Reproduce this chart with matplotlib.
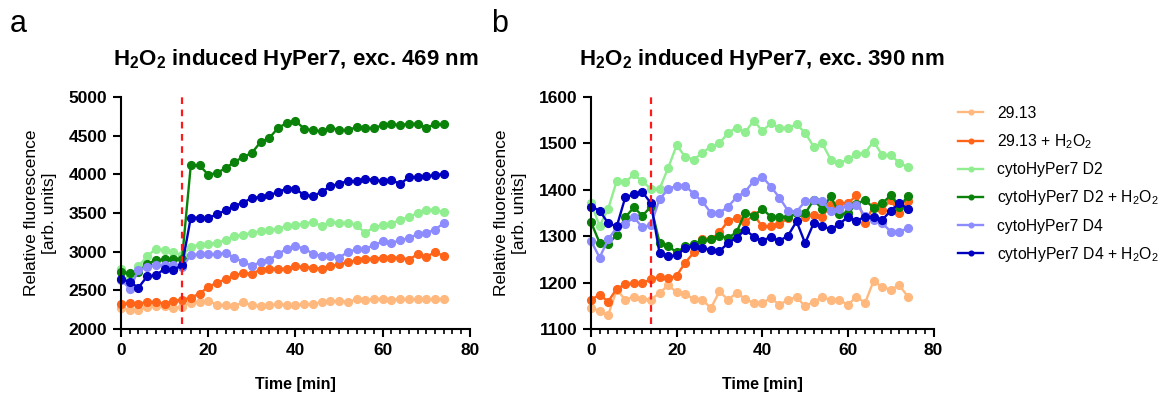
import numpy as np
import matplotlib
matplotlib.use("Agg")
import matplotlib.pyplot as plt
from matplotlib.ticker import MultipleLocator

plt.rcParams['font.family'] = ['Liberation Sans', 'DejaVu Sans']
plt.rcParams['mathtext.fontset'] = 'custom'
plt.rcParams['mathtext.rm'] = 'Liberation Sans'
plt.rcParams['mathtext.bf'] = 'Liberation Sans:bold'

time = np.arange(0, 76, 2)
treat_time = 14

labels = ["29.13", r"29.13 + $\mathrm{H_2O_2}$", "cytoHyPer7 D2",
          r"cytoHyPer7 D2 + $\mathrm{H_2O_2}$", "cytoHyPer7 D4",
          r"cytoHyPer7 D4 + $\mathrm{H_2O_2}$"]
colors = ["#FFB97E", "#FF6418", "#90EE90", "#0A820A", "#8C8CFF", "#0000C0"]

# exc. 469 nm
a_2913 = [2276, 2250, 2242, 2285, 2293, 2293, 2272, 2285, 2341, 2349, 2362, 2315, 2306,
          2293, 2349, 2306, 2293, 2306, 2319, 2306, 2306, 2319, 2319, 2349, 2362, 2362,
          2349, 2384, 2371, 2384, 2392, 2371, 2384, 2384, 2384, 2384, 2384, 2392]
a_2913_h = [2319, 2336, 2328, 2349, 2349, 2328, 2362, 2379, 2405, 2457, 2543, 2599, 2642,
            2694, 2724, 2716, 2767, 2780, 2780, 2780, 2815, 2802, 2793, 2780, 2815, 2836,
            2867, 2888, 2910, 2910, 2923, 2923, 2923, 2897, 2966, 2931, 2996, 2944]
a_d2 = [2780, 2673, 2810, 2940, 3039, 3017, 2996, 2953, 3060, 3091, 3095, 3117, 3147,
        3203, 3220, 3242, 3267, 3276, 3298, 3328, 3341, 3362, 3384, 3332, 3384, 3371,
        3375, 3341, 3242, 3319, 3341, 3362, 3414, 3448, 3500, 3543, 3543, 3513]
a_d2_h = [2737, 2724, 2737, 2845, 2888, 2901, 2910, 2910, 4116, 4116, 3996, 4017, 4082,
          4160, 4224, 4276, 4418, 4470, 4599, 4664, 4690, 4591, 4569, 4556, 4599, 4578,
          4569, 4612, 4599, 4599, 4634, 4655, 4634, 4655, 4655, 4603, 4647, 4647]
a_d4 = [2638, 2522, 2759, 2802, 2823, 2823, 2823, 2802, 2953, 2966, 2966, 2966, 2983,
        2923, 2867, 2815, 2867, 2897, 2966, 3039, 3073, 3039, 2975, 2944, 2944, 2923,
        2996, 3030, 3039, 3082, 3134, 3112, 3147, 3177, 3224, 3242, 3285, 3371]
a_d4_h = [2651, 2608, 2535, 2681, 2694, 2780, 2767, 2823, 3440, 3440, 3435, 3483, 3535,
          3591, 3634, 3694, 3707, 3728, 3772, 3815, 3815, 3728, 3720, 3772, 3845, 3879,
          3914, 3910, 3935, 3931, 3910, 3931, 3871, 3966, 3966, 3979, 3987, 4009]

# exc. 390 nm
b_2913 = [1146, 1139, 1130, 1185, 1163, 1170, 1165, 1163, 1178, 1194, 1180, 1175, 1165,
          1163, 1145, 1181, 1163, 1178, 1165, 1156, 1156, 1167, 1152, 1163, 1169, 1149,
          1159, 1168, 1163, 1163, 1152, 1170, 1156, 1204, 1190, 1185, 1194, 1170]
b_2913_h = [1163, 1174, 1159, 1187, 1196, 1199, 1199, 1207, 1212, 1209, 1215, 1243, 1265,
            1293, 1293, 1308, 1333, 1339, 1330, 1346, 1321, 1321, 1326, 1339, 1349, 1341,
            1346, 1342, 1368, 1371, 1371, 1388, 1328, 1366, 1357, 1378, 1349, 1375]
b_d2 = [1371, 1322, 1359, 1419, 1417, 1433, 1418, 1402, 1402, 1447, 1496, 1471, 1465,
        1480, 1493, 1500, 1523, 1534, 1524, 1549, 1527, 1543, 1534, 1533, 1541, 1523,
        1493, 1500, 1465, 1457, 1466, 1477, 1480, 1504, 1475, 1475, 1458, 1449]
b_d2_h = [1330, 1286, 1283, 1303, 1341, 1362, 1344, 1364, 1286, 1279, 1265, 1278, 1283,
          1291, 1293, 1301, 1296, 1309, 1351, 1344, 1359, 1342, 1342, 1342, 1349, 1349,
          1378, 1359, 1386, 1348, 1349, 1370, 1378, 1361, 1371, 1388, 1364, 1386]
b_d4 = [1290, 1254, 1293, 1319, 1326, 1341, 1319, 1325, 1380, 1401, 1409, 1409, 1391,
        1375, 1350, 1350, 1364, 1384, 1396, 1419, 1428, 1407, 1383, 1355, 1353, 1375,
        1379, 1375, 1354, 1359, 1366, 1368, 1344, 1335, 1328, 1310, 1310, 1317]
b_d4_h = [1364, 1355, 1328, 1321, 1384, 1390, 1395, 1371, 1263, 1257, 1259, 1275, 1279,
          1275, 1270, 1268, 1285, 1297, 1314, 1299, 1290, 1299, 1290, 1301, 1332, 1285,
          1328, 1322, 1315, 1326, 1342, 1333, 1342, 1342, 1335, 1355, 1371, 1359]

panels = [
    ([a_2913, a_2913_h, a_d2, a_d2_h, a_d4, a_d4_h], (2000, 5000), 500,
     r"$\mathbf{H_2O_2}$ induced HyPer7, exc. 469 nm", "a"),
    ([b_2913, b_2913_h, b_d2, b_d2_h, b_d4, b_d4_h], (1100, 1600), 100,
     r"$\mathbf{H_2O_2}$ induced HyPer7, exc. 390 nm", "b"),
]

fig = plt.figure(figsize=(11.69, 3.99), dpi=100)
ax_a = fig.add_axes([0.1035, 0.1754, 0.2985, 0.5815])
ax_b = fig.add_axes([0.5056, 0.1754, 0.2930, 0.5815])

for ax, (series, ylim, ystep, title, letter) in zip([ax_a, ax_b], panels):
    for vals, lab, col in zip(series, labels, colors):
        ax.plot(time, vals, color=col, lw=1.7, marker='o', ms=5.6, label=lab,
                clip_on=False)
    ax.axvline(treat_time, ymin=0.02, ymax=1, color='#FF1A1A', ls=(0, (3, 2.5)), lw=1.6)
    ax.set_xlim(0, 80)
    ax.set_ylim(*ylim)
    ax.xaxis.set_major_locator(MultipleLocator(20))
    ax.xaxis.set_minor_locator(MultipleLocator(2))
    ax.yaxis.set_major_locator(MultipleLocator(ystep))
    for s in ['top', 'right']:
        ax.spines[s].set_visible(False)
    for s in ['left', 'bottom']:
        ax.spines[s].set_linewidth(1.5)
    ax.tick_params(which='major', length=6, width=1.5, labelsize=12.5, pad=4)
    ax.tick_params(which='minor', length=3.5, width=1.2)
    for t in ax.get_xticklabels() + ax.get_yticklabels():
        t.set_fontweight('bold')
    ax.set_xlabel("Time [min]", fontweight='bold', fontsize=11.5, labelpad=14)
    ax.set_ylabel("Relative fluorescence\n[arb. units]", fontsize=12.5, labelpad=8,
                  linespacing=1.3)
    ax.set_title(title, fontweight='bold', fontsize=16, pad=23)

fig.text(0.008, 0.94, "a", fontsize=22, va='center')
fig.text(0.42, 0.94, "b", fontsize=22, va='center')

handles, labs = ax_b.get_legend_handles_labels()
fig.legend(handles, labs, loc='upper left', bbox_to_anchor=(0.8195, 0.735),
           frameon=False, fontsize=11.3, handlelength=1.6, labelspacing=0.72,
           handletextpad=0.9, markerscale=0.6, borderaxespad=0, borderpad=0)

fig.savefig("out.png", dpi=100)
